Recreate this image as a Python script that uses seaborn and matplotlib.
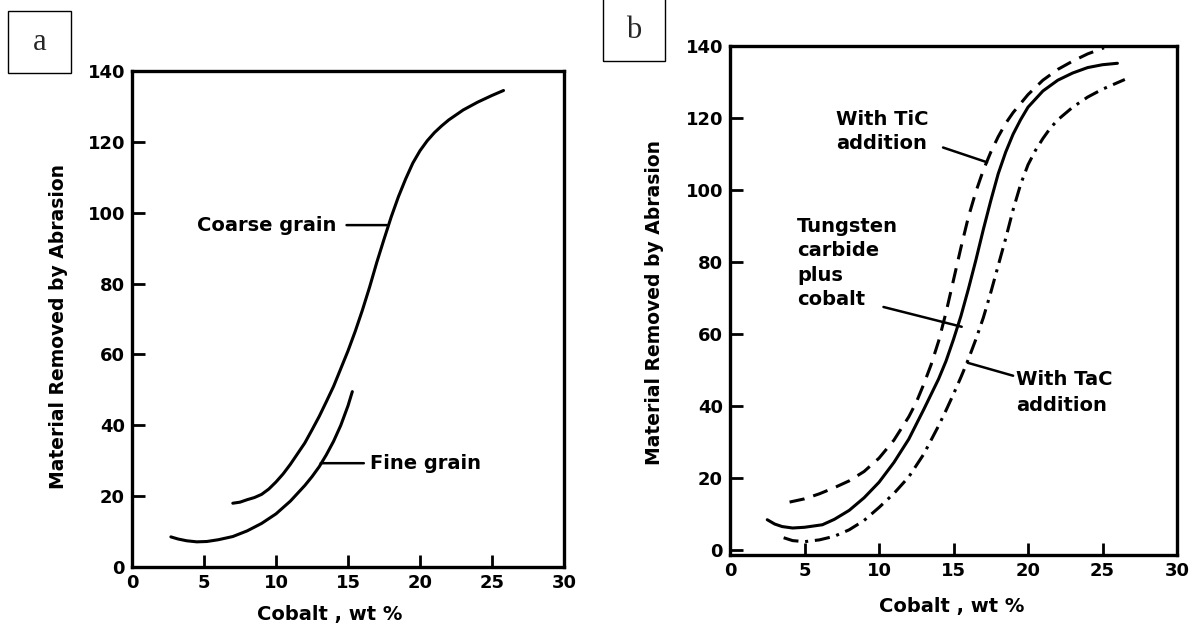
import numpy as np
import pandas as pd
import matplotlib
matplotlib.use("Agg")
import matplotlib.pyplot as plt
from matplotlib.patches import Rectangle
import seaborn as sns

# ---------------- data ----------------
# Panel a
coarse_x = [7, 7.5, 8, 8.5, 9, 9.5, 10, 10.5, 11, 11.5, 12, 12.5, 13, 13.5, 14, 14.5, 15, 15.5,
            16, 16.5, 17, 17.5, 18, 18.5, 19, 19.5, 20, 20.5, 21, 21.5, 22, 23, 24, 25, 25.8]
coarse_y = [18, 18.3, 19, 19.6, 20.5, 22, 24, 26.3, 29, 32, 35, 38.7, 42.5, 46.7, 51, 56, 61, 66.5,
            72.5, 79, 86, 92.5, 98.8, 104.5, 109.5, 114, 117.5, 120.3, 122.6, 124.5, 126.2, 129, 131.2, 133.1, 134.5]
fine_x = [2.7, 3.2, 3.8, 4.5, 5.2, 6.0, 7.0, 8.0, 9.0, 10.0, 11.0, 12.0, 12.5, 13.0, 13.5, 14.0, 14.5, 15.0, 15.3]
fine_y = [8.5, 7.9, 7.4, 7.1, 7.2, 7.7, 8.6, 10.2, 12.3, 15.0, 18.6, 23.0, 25.5, 28.3, 31.7, 35.5, 40, 45.5, 49.5]

# Panel b
wc_x = [2.5, 3, 3.5, 4.2, 5, 6.2, 7, 8, 9, 10, 11, 12, 13, 14, 14.5, 15, 15.5, 16, 16.5, 17, 17.5,
        18, 18.5, 19, 19.5, 20, 21, 22, 23, 24, 25, 26]
wc_y = [8.4, 7.2, 6.5, 6.1, 6.3, 7.0, 8.5, 11, 14.5, 18.8, 24.3, 30.8, 39, 47.5, 52.5, 58.5, 65, 72.5,
        80.5, 89, 97, 104.5, 110.5, 115.5, 119.5, 123, 127.5, 130.5, 132.5, 134, 134.8, 135.2]
tic_x = [4.0, 5, 6, 7, 8, 9, 10, 11, 12, 12.5, 13, 13.5, 14, 14.5, 15, 15.5, 16, 16.5, 17, 17.5,
         18, 18.5, 19, 20, 21, 22, 23, 24, 25.1]
tic_y = [13.3, 14.2, 15.6, 17.3, 19.2, 21.8, 25.5, 30.5, 37, 41, 46, 51.5, 58, 66, 75, 84, 92.5, 99.5,
         105.5, 110.5, 114.8, 118.5, 121.5, 126.5, 130.5, 133.5, 135.8, 137.8, 139.5]
tac_x = [3.6, 4.2, 5.0, 6, 7, 8, 9, 10, 11, 12, 13, 14, 14.5, 15, 15.5, 16, 16.5, 17, 17.5, 18, 18.5,
         19, 19.5, 20, 20.5, 21, 21.5, 22, 23, 24, 25, 26.5]
tac_y = [3.4, 2.6, 2.3, 2.8, 3.8, 5.6, 8.2, 11.8, 15.7, 20.3, 26.6, 34.5, 38.8, 43.3, 48, 53, 58.5, 64.5,
         71.5, 79, 86.5, 94.5, 101.5, 107, 111, 114.3, 117.2, 119.5, 123, 125.8, 128, 130.7]

x_ticks = [0, 5, 10, 15, 20, 25, 30]
y_ticks = [0, 20, 40, 60, 80, 100, 120, 140]
x_label = "Cobalt , wt %"
y_label = "Material Removed by Abrasion"

dfA = pd.concat([
    pd.DataFrame({"cobalt": coarse_x, "removed": coarse_y, "grain": "Coarse grain"}),
    pd.DataFrame({"cobalt": fine_x, "removed": fine_y, "grain": "Fine grain"}),
], ignore_index=True)
dfB = pd.concat([
    pd.DataFrame({"cobalt": wc_x, "removed": wc_y, "alloy": "WC-Co"}),
    pd.DataFrame({"cobalt": tic_x, "removed": tic_y, "alloy": "TiC"}),
    pd.DataFrame({"cobalt": tac_x, "removed": tac_y, "alloy": "TaC"}),
], ignore_index=True)

# ---------------- style ----------------
sns.set_theme(style="ticks")
plt.rcParams["font.family"] = ["DejaVu Sans"]
plt.rcParams["font.weight"] = "bold"
plt.rcParams["axes.labelweight"] = "bold"

W, H = 1189, 627
fig = plt.figure(figsize=(W / 100, H / 100), dpi=100)
fig.patch.set_facecolor("white")

axA = fig.add_axes([132 / W, 1 - 567 / H, 432 / W, 496 / H])
axB = fig.add_axes([730 / W, 1 - 555 / H, 447 / W, 509 / H])

LW = 2.2
sns.lineplot(data=dfA, x="cobalt", y="removed", hue="grain",
             palette={"Coarse grain": "black", "Fine grain": "black"},
             sort=False, estimator=None, legend=False, lw=LW, ax=axA)
sns.lineplot(data=dfB, x="cobalt", y="removed", hue="alloy", style="alloy",
             palette={"WC-Co": "black", "TiC": "black", "TaC": "black"},
             dashes={"WC-Co": "", "TiC": (5, 3), "TaC": (5, 2.2, 1, 2.2)},
             sort=False, estimator=None, legend=False, lw=LW, ax=axB)

for ax, ylo in ((axA, 0), (axB, -1.4)):
    ax.set_xlim(0, 30)
    ax.set_ylim(ylo, 140)
    ax.set_xticks(x_ticks)
    ax.set_yticks(y_ticks)
    ax.tick_params(direction="in", length=9, width=2, colors="black",
                   labelsize=13, pad=5)
    for lab in ax.get_xticklabels() + ax.get_yticklabels():
        lab.set_fontweight("bold")
    for sp in ax.spines.values():
        sp.set_visible(True)
        sp.set_linewidth(2.4)
        sp.set_color("black")
    ax.set_xlabel(x_label, fontsize=14, fontweight="bold", color="black")
    ax.set_ylabel(y_label, fontsize=13.5, fontweight="bold", color="black")
    ax.set_facecolor("white")
    ax.grid(False)

axA.xaxis.set_label_coords(0.458, -0.077)
axA.yaxis.set_label_coords(-0.148, 0.484)
axB.xaxis.set_label_coords(0.497, -0.083)
axB.yaxis.set_label_coords(-0.147, 0.497)

# ---------------- annotations ----------------
tkw = dict(fontsize=14, fontweight="bold", color="black")
lkw = dict(arrowstyle="-", color="black", lw=1.8, shrinkA=0, shrinkB=0)

axA.text(14.2, 96.5, "Coarse grain", ha="right", va="center", **tkw)
axA.annotate("", xy=(17.7, 96.5), xytext=(14.9, 96.5), arrowprops=lkw)
axA.text(16.5, 29.3, "Fine grain", ha="left", va="center", **tkw)
axA.annotate("", xy=(13.1, 29.3), xytext=(16.1, 29.3), arrowprops=lkw)

axB.text(7.1, 116.2, "With TiC\naddition", ha="left", va="center", linespacing=1.35, **tkw)
axB.annotate("", xy=(17.25, 107.7), xytext=(14.3, 111.8), arrowprops=lkw)
axB.text(4.5, 79.7, "Tungsten\ncarbide\nplus\ncobalt", ha="left", va="center", linespacing=1.35, **tkw)
axB.annotate("", xy=(15.55, 62.0), xytext=(10.3, 67.5), arrowprops=lkw)
axB.text(19.2, 43.8, "With TaC\naddition", ha="left", va="center", linespacing=1.5, **tkw)
axB.annotate("", xy=(15.95, 52.0), xytext=(19.0, 48.4), arrowprops=lkw)

# ---------------- panel letters ----------------
fig.add_artist(Rectangle((8 / W, 1 - 73 / H), 63 / W, 62 / H, transform=fig.transFigure,
                         fill=False, ec="black", lw=1.0))
fig.text(39.5 / W, 1 - 42 / H, "a", ha="center", va="center", fontsize=22,
         family="Liberation Serif", fontweight="normal")
fig.add_artist(Rectangle((603 / W, 1 - 61 / H), 62 / W, 63 / H, transform=fig.transFigure,
                         fill=False, ec="black", lw=1.0))
fig.text(634 / W, 1 - 30 / H, "b", ha="center", va="center", fontsize=22,
         family="Liberation Serif", fontweight="normal")

fig.savefig("out.png", dpi=100, facecolor="white")
